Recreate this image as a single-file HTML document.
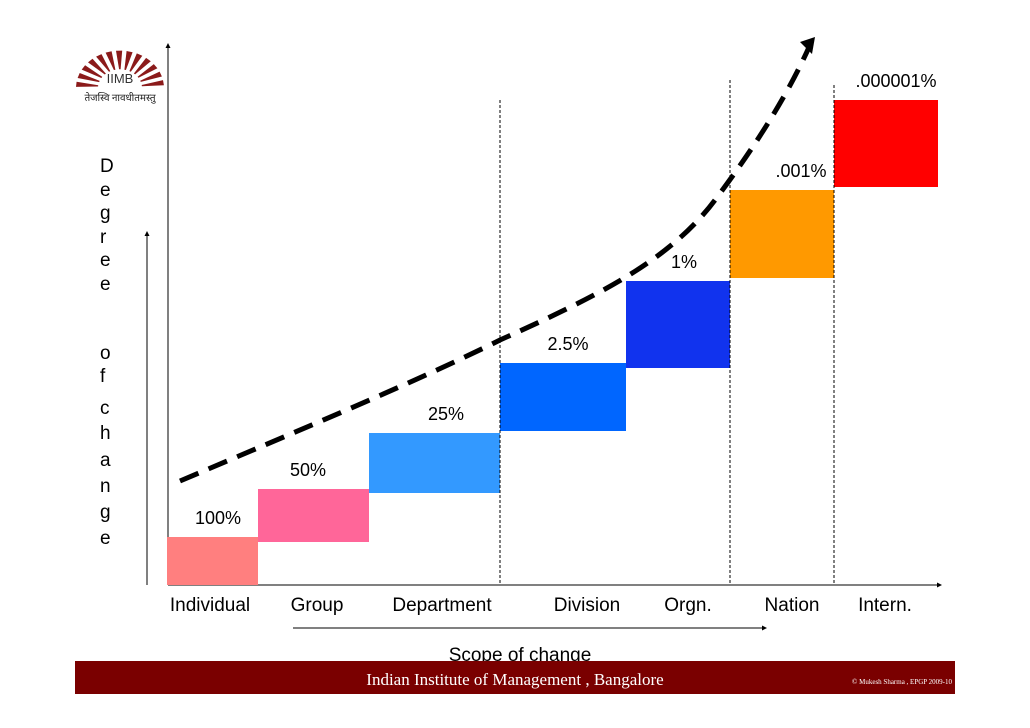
<!DOCTYPE html>
<html><head><meta charset="utf-8"><style>
body{margin:0;background:#fff;}
svg{display:block;font-family:"Liberation Sans",sans-serif;}
</style></head><body>
<svg width="1030" height="728" viewBox="0 0 1030 728">
<defs>
<marker id="ah2" markerWidth="5" markerHeight="5" refX="3" refY="2.5" orient="auto"><path d="M0,0 L5,2.5 L0,5z" fill="#000"/></marker>
</defs>
<g>
<g id="rays" fill="#8b1a1a"></g>
<text x="120" y="83" font-size="13" text-anchor="middle" fill="#333">IIMB</text>
<text x="120" y="101" font-size="10" text-anchor="middle" fill="#222" font-family="'Noto Sans CJK SC',sans-serif">तेजस्वि नावधीतमस्तु</text>
</g>
<line x1="168" y1="585" x2="168" y2="45" stroke="#000" stroke-width="1" marker-end="url(#ah2)"/>
<line x1="168" y1="585" x2="940" y2="585" stroke="#000" stroke-width="1" marker-end="url(#ah2)"/>
<line x1="147" y1="585" x2="147" y2="233" stroke="#000" stroke-width="1" marker-end="url(#ah2)"/>
<line x1="293" y1="628" x2="765" y2="628" stroke="#000" stroke-width="1" marker-end="url(#ah2)"/>
<g id="vlab" font-size="19" fill="#000"></g>
<g id="marks"></g>
<path d="M180,481 C300,430 420,380 500,340 C600,295 670,260 715,200 C760,140 790,90 810,45" fill="none" stroke="#000" stroke-width="5" stroke-dasharray="20,11"/>
<path d="M800,42 L815,37 L812,54z" fill="#000"/>
<text x="520" y="661" font-size="19" text-anchor="middle">Scope of change</text>
<rect x="75" y="661" width="880" height="33" fill="#7a0000"/>
<text x="515" y="685" font-size="17" fill="#fff" text-anchor="middle" font-family="'Liberation Serif',serif">Indian Institute of Management , Bangalore</text>
<text x="952" y="684" font-size="7" fill="#fff" text-anchor="end" font-family="'Liberation Serif',serif">© Mukesh Sharma , EPGP 2009-10</text>
</svg>
<script>
const categories=["Individual","Group","Department","Division","Orgn.","Nation","Intern."];
const shareLabels=["100%","50%","25%","2.5%","1%",".001%",".000001%"];
const barBase=[0,43,92,154,217,307,398];
const barTop=[48,96,152,222,304,395,485];
const colors=["#ff7f7f","#ff6699","#3399ff","#0066ff","#1133ee","#ff9900","#ff0000"];
const edges=[167,258,369,500,626,730,834,938];
const catX=[210,317,442,587,688,792,885];
const labelX=[218,308,446,568,684,801,896];
const y=v=>585-v;
const ns="http://www.w3.org/2000/svg";
const rays=document.getElementById('rays');
for(let k=0;k<13;k++){
 const a1=Math.PI*(1-k/13)-0.03, a2=a1-0.14;
 const cx=120,cy=88,r0=22,r1=44;
 const p=document.createElementNS(ns,'path');
 const pt=(r,a)=>(cx+r*Math.cos(a)).toFixed(1)+','+(cy-r*0.85*Math.sin(a)).toFixed(1);
 p.setAttribute('d','M'+pt(r0,a1-0.05)+' L'+pt(r1,a1)+' L'+pt(r1,a2)+' L'+pt(r0,a2+0.02)+'z');
 rays.appendChild(p);
}
const g=document.getElementById('marks');
categories.forEach((c,i)=>{
 const r=document.createElementNS(ns,'rect');
 r.setAttribute('x',edges[i]);r.setAttribute('width',edges[i+1]-edges[i]);
 r.setAttribute('y',y(barTop[i]));r.setAttribute('height',barTop[i]-barBase[i]);
 r.setAttribute('fill',colors[i]);
 
 
 g.appendChild(r);
 const t=document.createElementNS(ns,'text');
 t.setAttribute('x',labelX[i]);t.setAttribute('y',y(barTop[i])-13);
 t.setAttribute('text-anchor','middle');t.setAttribute('font-size','18');
 t.textContent=shareLabels[i];
 
 
 g.appendChild(t);
 const l=document.createElementNS(ns,'text');
 l.setAttribute('x',catX[i]);l.setAttribute('y',611);
 l.setAttribute('text-anchor','middle');l.setAttribute('font-size','19');
 l.textContent=c;
 
 
 g.appendChild(l);
});
[[500,100],[730,80],[834,85]].forEach(([x,t])=>{
 const d=document.createElementNS(ns,'line');
 d.setAttribute('x1',x);d.setAttribute('x2',x);d.setAttribute('y1',t);d.setAttribute('y2',585);
 d.setAttribute('stroke','#000');d.setAttribute('stroke-dasharray','3,2');
 
 
 g.appendChild(d);
});
const letters=[["D",172],["e",196],["g",219],["r",243],["e",266],["e",290],["o",359],["f",382],["c",414],["h",439],["a",466],["n",492],["g",518],["e",544]];
const vl=document.getElementById('vlab');
letters.forEach(([ch,yy])=>{
 const t=document.createElementNS(ns,'text');
 t.setAttribute('x',100);t.setAttribute('y',yy);t.textContent=ch;
 vl.appendChild(t);
});
</script>
</body></html>
